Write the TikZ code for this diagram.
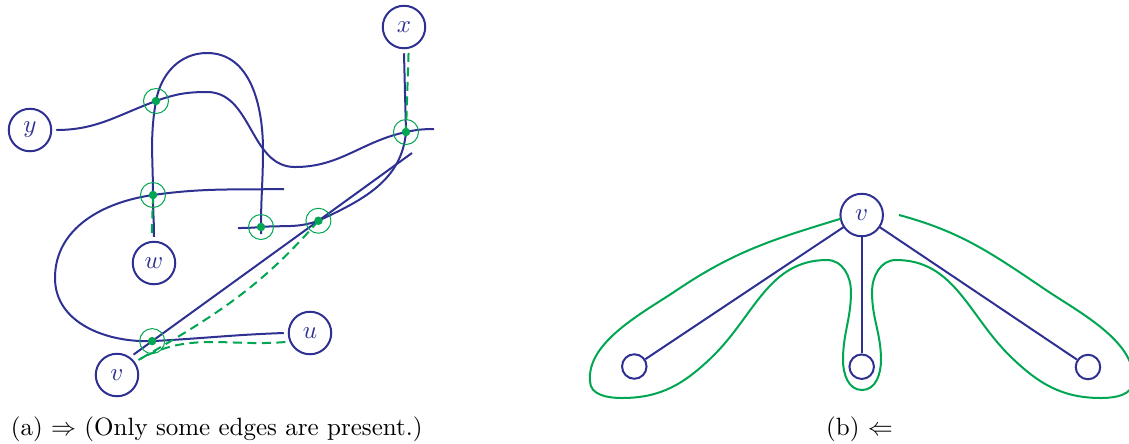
\documentclass[tikz,border=0pt]{standalone}
\usepackage{amsmath}
\usepackage{tikz}
\usetikzlibrary{positioning, calc}
\definecolor{blu}{RGB}{46,49,146}
\definecolor{grn}{RGB}{0,166,81}

\begin{document}
\begin{tikzpicture}[x=0.4pt,y=-0.4pt,line width=0.8pt,
  vx/.style={circle,draw=blu,text=blu,minimum size=17pt,inner sep=0pt,outer sep=2pt},
  lf/.style={circle,draw=blu,minimum size=9.8pt,inner sep=0pt},
  cr/.style={circle,draw=grn,line width=0.4pt,minimum size=10pt,inner sep=0pt},
  ed/.style={draw=blu},
  gd/.style={draw=grn,dash pattern=on 3.6pt off 2.2pt},
  gl/.style={draw=grn}]
  \useasboundingbox (0,0) rectangle (1129,443);
  % (a)
  \node[vx](x) at (404,27){$x$};
  \node[vx](y) at (30,130){$y$};
  \node[vx](w) at (154,263){$w$};
  \node[vx](v) at (117,375){$v$};
  \node[vx](u) at (310,333){$u$};
  \coordinate (e1) at (434,129);
  \coordinate (e2) at (284,189);
  \coordinate (e3) at (412,153);
  \coordinate (e4) at (238,228);
  \coordinate (e5) at (261,234);
  \coordinate (c1) at (156,101);
  \coordinate (c2) at (406,132);
  \coordinate (c3) at (153,195);
  \coordinate (c4) at (261,227);
  \coordinate (c5) at ($(v.51)!0.664!(e3)$);
  \coordinate (c6) at ($(v.51)!0.067!(e3)$);
  \draw[ed] (y.east) to[out=0,in=200] (c1) to[out=20,in=180] (207,92) to[out=0,in=180] (295,167)
    to[out=0,in=192] (c2) to[out=12,in=180] (e1);
  \draw[ed] (w.north) to[out=90,in=-90] (c3) to[out=90,in=260] (c1) to[out=80,in=180] (207,53)
    to[out=0,in=90] (263,150) to[out=270,in=90] (c4) -- (e5);
  \draw[ed] (e2) to[out=181,in=8] (c3) to[out=188,in=90] (55,278) to[out=270,in=182] (c6)
    to[out=3,in=182] (u.west);
  \draw[ed] (v.51) -- (e3);
  \draw[ed] (x.south) -- (c2) to[out=265,in=25] (c5) to[out=200,in=5] (c4) to[out=185,in=0] (e4);
  \draw[gd] (x.-80) -- (c2);
  \draw[gd] (c3) -- (w.95);
  \draw[gd] (c5) to[out=229,in=30] (v.35);
  \draw[gd] (u.200) to[out=185,in=30] (v.35);
  \foreach \c in {c1,c2,c3,c4,c5,c6}{\node[cr](r\c) at (\c){}; \fill[grn] (\c) circle (1.7pt);}
  \node[anchor=base](capa) at (216.7,435.7){(a) $\Rightarrow$ (Only some edges are present.)};
  % (b)
  \node[vx,outer sep=0pt](hub) at (861.7,215){$v$};
  \node[lf](l1) at (634.3,366.5){};
  \node[lf](l2) at (861.7,366.7){};
  \node[lf](l3) at (1088,367){};
  \foreach \l in {l1,l2,l3} \draw[ed] (hub) -- (\l);
  \draw[gl] (hub.190) to[out=197,in=34] (677,290) to[out=214,in=95,looseness=0.8] (590,381)
    to[out=270,in=180] (622,398) to[out=0,in=224] (712,357) to[out=44,in=180] (827,260)
    to[out=0,in=90] (851,292) to[out=270,in=90] (843,360) to[out=270,in=180] (862,390)
    to[out=0,in=270] (881,360) to[out=90,in=270] (872,292) to[out=90,in=180] (896,260)
    to[out=0,in=136] (1011,357) to[out=316,in=180] (1101,398) to[out=0,in=270] (1133,381)
    to[out=85,in=-34,looseness=0.8] (1046,290) to[out=146,in=-15] (899,215);
  \node[anchor=base](capb) at (859.5,435.7){(b) $\Leftarrow$};
\end{tikzpicture}
\end{document}
